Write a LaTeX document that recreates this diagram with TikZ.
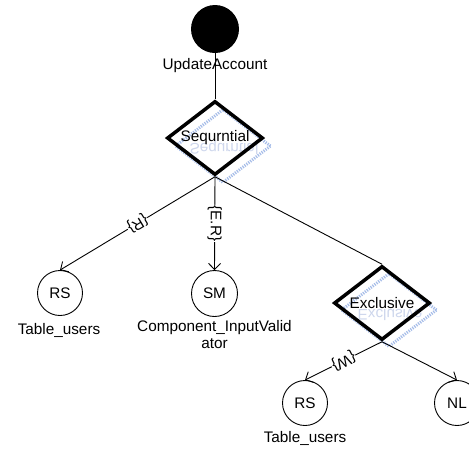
\documentclass[tikz,border=0pt]{standalone}
\usepackage{fontspec}
\setmainfont{Liberation Sans}
\usetikzlibrary{shapes.geometric,arrows.meta}
\definecolor{shadowblue}{RGB}{165,188,232}
\definecolor{reflectblue}{RGB}{205,214,236}
\begin{document}
\begin{tikzpicture}[x=1pt,y=-1pt,
  font=\fontsize{15.3}{17}\selectfont,
  plain/.style={line width=0.9pt},
  conn/.style={line width=0.9pt,-{Straight Barb[length=6pt,width=12pt,line width=0.9pt]}},
  gate/.style={diamond,draw,line width=3.5pt,minimum width=96pt,minimum height=74pt,inner sep=0pt,aspect=1.3},
  gateshadow/.style={gate,draw=shadowblue,line width=3pt,dash pattern=on 1.2pt off 1.2pt},
  reflect/.style={text=reflectblue,yscale=-1,transform shape,anchor=base,inner sep=0pt},
  state/.style={circle,draw,line width=0.9pt,minimum size=45pt,inner sep=0pt},
  txtlabel/.style={anchor=base,inner sep=0pt},
  lab/.style={fill=white,inner sep=0.6pt,sloped,allow upside down}]
\useasboundingbox (0,0) rectangle (469,448);
% shadows and reflections
\node[gateshadow] (seqsh) at (223,146) {};
\node[gateshadow] (excsh) at (389,310) {};
\node[reflect] (seqref) at (224,143) {Sequrntial};
\node[reflect] (excref) at (390,309) {Exclusive};
% start
\node[circle,fill=black,minimum size=48pt,inner sep=0pt] (start) at (215,29) {};
\node[txtlabel] (startlab) at (215,69.5) {UpdateAccount};
% gates
\node[gate] (seq) at (215,138) {Sequrntial};
\node[gate] (exc) at (382,303) {Exclusive};
% states
\node[state] (rs1) at (60,293) {RS};
\node[state,minimum size=46pt] (sm) at (214.5,293.5) {SM};
\node[state] (rs2) at (305,403) {RS};
\node[state] (nl) at (457,403) {NL};
\node[txtlabel] (rs1lab) at (59,334) {Table\_users};
\node[txtlabel] (smlab1) at (214.5,331) {Component\_InputValid};
\node[txtlabel] (smlab2) at (214.5,348) {ator};
\node[txtlabel] (rs2lab) at (305,442) {Table\_users};
% connectors
\draw[plain] (start) -- (seq.north);
\draw[conn] (seq.south) -- node[lab] {\{R\}} (rs1.north);
\draw[conn] (seq.south) -- node[lab] {\{E.R\}} (sm.north);
\draw[plain] (seq.south) -- (exc.north);
\draw[conn] (exc.south) -- node[lab] {\{W\}} (rs2.north);
\draw[conn] (exc.south) -- (nl.north);
\end{tikzpicture}
\end{document}
